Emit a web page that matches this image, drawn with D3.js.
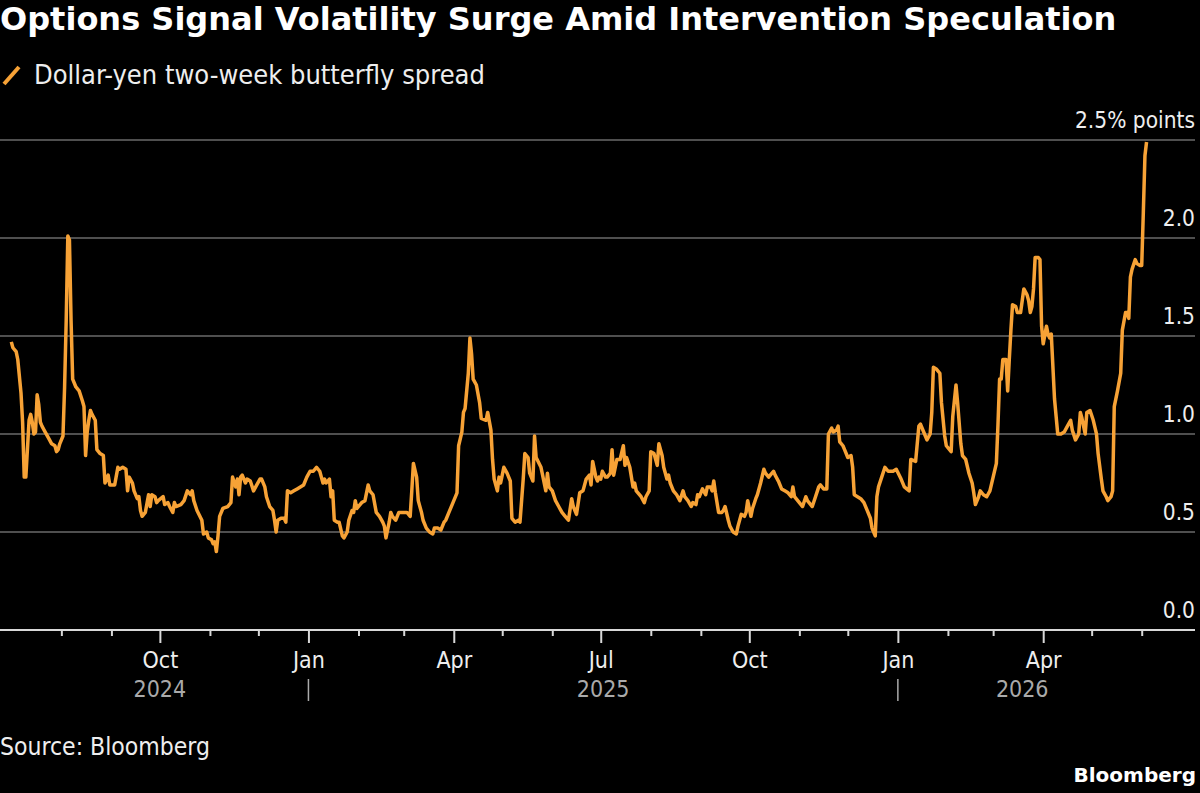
<!DOCTYPE html>
<html>
<head>
<meta charset="utf-8">
<script src="https://cdn.jsdelivr.net/npm/d3@7"></script>
<style>
  html, body { margin: 0; padding: 0; background: #000; }
  svg { display: block; }
  text { font-family: "DejaVu Sans Condensed", "DejaVu Sans", sans-serif; font-stretch: condensed; }
</style>
</head>
<body>
<svg id="graphic-svg" width="1200" height="793"></svg>
<script>
var svg = d3.select("#graphic-svg");
var W = 1200, H = 793;
var margin = { left: 0, right: 5, top: 140, bottom: 163 };

// Data: dollar-yen two-week butterfly spread (% points)
var dates = [
"2024-07-01","2024-07-02","2024-07-04","2024-07-05","2024-07-07","2024-07-08","2024-07-09","2024-07-10","2024-07-12","2024-07-13",
"2024-07-14","2024-07-15","2024-07-16","2024-07-17","2024-07-18","2024-07-19","2024-07-20","2024-07-22","2024-07-24","2024-07-26",
"2024-07-28","2024-07-29","2024-07-30","2024-07-31","2024-08-02","2024-08-03","2024-08-04","2024-08-05","2024-08-06","2024-08-07",
"2024-08-08","2024-08-10","2024-08-12","2024-08-14","2024-08-15","2024-08-16","2024-08-17","2024-08-18","2024-08-19","2024-08-20",
"2024-08-22","2024-08-23","2024-08-25","2024-08-27","2024-08-28","2024-08-30","2024-08-31","2024-09-03","2024-09-05","2024-09-06",
"2024-09-08","2024-09-10","2024-09-11","2024-09-12","2024-09-14","2024-09-15","2024-09-17","2024-09-18","2024-09-19","2024-09-20",
"2024-09-22","2024-09-24","2024-09-25","2024-09-26","2024-09-28","2024-09-29","2024-09-30","2024-10-03","2024-10-04","2024-10-06",
"2024-10-07","2024-10-09","2024-10-10","2024-10-11","2024-10-14","2024-10-16","2024-10-18","2024-10-20","2024-10-21","2024-10-22",
"2024-10-24","2024-10-27","2024-10-28","2024-10-30","2024-10-31","2024-11-02","2024-11-03","2024-11-04","2024-11-05","2024-11-06",
"2024-11-07","2024-11-09","2024-11-12","2024-11-14","2024-11-15","2024-11-17","2024-11-18","2024-11-19","2024-11-20","2024-11-21",
"2024-11-23","2024-11-24","2024-11-26","2024-11-28","2024-11-30","2024-12-02","2024-12-03","2024-12-05","2024-12-06","2024-12-08",
"2024-12-10","2024-12-11","2024-12-12","2024-12-13","2024-12-15","2024-12-17","2024-12-18","2024-12-19","2024-12-21","2024-12-23",
"2024-12-25","2024-12-27","2024-12-29","2024-12-31","2025-01-02","2025-01-04","2025-01-06","2025-01-08","2025-01-09","2025-01-10",
"2025-01-11","2025-01-12","2025-01-14","2025-01-15","2025-01-16","2025-01-17","2025-01-19","2025-01-20","2025-01-22","2025-01-23",
"2025-01-25","2025-01-26","2025-01-28","2025-01-29","2025-01-30","2025-01-31","2025-02-03","2025-02-05","2025-02-07","2025-02-08",
"2025-02-10","2025-02-12","2025-02-14","2025-02-16","2025-02-17","2025-02-18","2025-02-20","2025-02-21","2025-02-22","2025-02-24",
"2025-02-26","2025-02-28","2025-03-03","2025-03-05","2025-03-06","2025-03-07","2025-03-09","2025-03-10","2025-03-12","2025-03-13",
"2025-03-15","2025-03-17","2025-03-19","2025-03-20","2025-03-22","2025-03-24","2025-03-26","2025-03-27","2025-03-29","2025-03-31",
"2025-04-03","2025-04-04","2025-04-06","2025-04-07","2025-04-08","2025-04-10","2025-04-11","2025-04-12","2025-04-13","2025-04-15",
"2025-04-17","2025-04-18","2025-04-21","2025-04-22","2025-04-24","2025-04-25","2025-04-26","2025-04-28","2025-04-29","2025-04-30",
"2025-05-02","2025-05-04","2025-05-06","2025-05-07","2025-05-09","2025-05-11","2025-05-12","2025-05-14","2025-05-15","2025-05-17",
"2025-05-18","2025-05-20","2025-05-21","2025-05-22","2025-05-25","2025-05-26","2025-05-28","2025-05-29","2025-05-30","2025-06-01",
"2025-06-03","2025-06-05","2025-06-07","2025-06-09","2025-06-11","2025-06-13","2025-06-14","2025-06-16","2025-06-18","2025-06-20",
"2025-06-22","2025-06-24","2025-06-25","2025-06-26","2025-06-28","2025-06-29","2025-06-30","2025-07-01","2025-07-02","2025-07-04",
"2025-07-05","2025-07-07","2025-07-08","2025-07-09","2025-07-11","2025-07-13","2025-07-15","2025-07-16","2025-07-17","2025-07-19",
"2025-07-21","2025-07-22","2025-07-23","2025-07-26","2025-07-28","2025-07-29","2025-07-31","2025-08-01","2025-08-03","2025-08-05",
"2025-08-06","2025-08-08","2025-08-09","2025-08-11","2025-08-12","2025-08-13","2025-08-15","2025-08-17","2025-08-19","2025-08-21",
"2025-08-22","2025-08-24","2025-08-26","2025-08-27","2025-08-29","2025-08-30","2025-08-31","2025-09-02","2025-09-04","2025-09-05",
"2025-09-07","2025-09-08","2025-09-09","2025-09-10","2025-09-12","2025-09-14","2025-09-15","2025-09-16","2025-09-18","2025-09-19",
"2025-09-21","2025-09-23","2025-09-24","2025-09-26","2025-09-28","2025-09-29","2025-09-30","2025-10-02","2025-10-03","2025-10-05",
"2025-10-06","2025-10-08","2025-10-10","2025-10-11","2025-10-13","2025-10-14","2025-10-16","2025-10-17","2025-10-19","2025-10-21",
"2025-10-23","2025-10-25","2025-10-27","2025-10-28","2025-10-29","2025-10-31","2025-11-01","2025-11-03","2025-11-05","2025-11-06",
"2025-11-09","2025-11-11","2025-11-13","2025-11-14","2025-11-16","2025-11-18","2025-11-19","2025-11-21","2025-11-22","2025-11-24",
"2025-11-25","2025-11-26","2025-11-28","2025-11-29","2025-12-01","2025-12-03","2025-12-04","2025-12-05","2025-12-07","2025-12-09",
"2025-12-11","2025-12-13","2025-12-15","2025-12-16","2025-12-18","2025-12-19","2025-12-20","2025-12-22","2025-12-24","2025-12-26",
"2025-12-29","2025-12-31","2026-01-03","2026-01-05","2026-01-08","2026-01-09","2026-01-12","2026-01-14","2026-01-15","2026-01-17",
"2026-01-19","2026-01-21","2026-01-22","2026-01-23","2026-01-25","2026-01-27","2026-01-28","2026-01-30","2026-01-31","2026-02-02",
"2026-02-03","2026-02-04","2026-02-06","2026-02-07","2026-02-09","2026-02-10","2026-02-12","2026-02-14","2026-02-16","2026-02-17",
"2026-02-18","2026-02-20","2026-02-21","2026-02-23","2026-02-25","2026-02-27","2026-03-01","2026-03-03","2026-03-04","2026-03-05",
"2026-03-06","2026-03-07","2026-03-09","2026-03-10","2026-03-11","2026-03-12","2026-03-13","2026-03-15","2026-03-16","2026-03-18",
"2026-03-19","2026-03-20","2026-03-22","2026-03-23","2026-03-24","2026-03-25","2026-03-26","2026-03-27","2026-03-29","2026-03-30",
"2026-03-31","2026-04-01","2026-04-03","2026-04-04","2026-04-05","2026-04-06","2026-04-08","2026-04-09","2026-04-10","2026-04-12",
"2026-04-14","2026-04-16","2026-04-18","2026-04-19","2026-04-21","2026-04-23","2026-04-24","2026-04-25","2026-04-26","2026-04-27",
"2026-04-28","2026-04-30","2026-05-02","2026-05-04","2026-05-05","2026-05-07","2026-05-08","2026-05-10","2026-05-11","2026-05-13",
"2026-05-14","2026-05-15","2026-05-17","2026-05-19","2026-05-20","2026-05-22","2026-05-23","2026-05-24","2026-05-25","2026-05-26",
"2026-05-28","2026-05-29","2026-05-31","2026-06-01","2026-06-02","2026-06-03","2026-06-04"
];
var values = [
1.47,1.44,1.42,1.38,1.21,1.06,0.78,0.78,1.07,1.10,
1.06,1.00,1.01,1.20,1.15,1.06,1.04,1.01,0.98,0.95,
0.94,0.91,0.92,0.95,0.99,1.24,1.58,2.01,1.99,1.58,
1.28,1.24,1.22,1.17,1.14,0.89,1.01,1.07,1.12,1.10,
1.07,0.92,0.90,0.89,0.75,0.79,0.74,0.74,0.83,0.82,
0.83,0.82,0.71,0.78,0.75,0.71,0.67,0.68,0.61,0.58,
0.60,0.69,0.63,0.69,0.68,0.65,0.66,0.68,0.64,0.65,
0.63,0.60,0.65,0.63,0.64,0.66,0.71,0.69,0.71,0.66,
0.61,0.56,0.49,0.50,0.47,0.46,0.44,0.45,0.40,0.48,
0.58,0.62,0.63,0.65,0.78,0.73,0.77,0.69,0.78,0.79,
0.75,0.77,0.76,0.71,0.74,0.77,0.77,0.73,0.68,0.63,
0.61,0.56,0.50,0.56,0.57,0.57,0.55,0.71,0.70,0.71,
0.72,0.73,0.74,0.78,0.81,0.81,0.83,0.81,0.78,0.75,
0.77,0.75,0.77,0.68,0.71,0.56,0.55,0.55,0.48,0.47,
0.50,0.56,0.61,0.60,0.66,0.62,0.65,0.66,0.74,0.71,
0.69,0.60,0.58,0.55,0.53,0.47,0.55,0.60,0.58,0.56,
0.60,0.60,0.60,0.58,0.71,0.85,0.78,0.66,0.60,0.56,
0.52,0.50,0.49,0.52,0.52,0.51,0.55,0.56,0.60,0.64,
0.70,0.94,1.01,1.11,1.13,1.31,1.49,1.41,1.28,1.25,
1.16,1.08,1.07,1.11,1.02,0.87,0.77,0.71,0.78,0.75,
0.83,0.80,0.76,0.57,0.55,0.56,0.55,0.77,0.90,0.88,
0.80,0.76,0.99,0.88,0.83,0.79,0.71,0.80,0.73,0.71,
0.66,0.63,0.60,0.58,0.56,0.67,0.63,0.59,0.70,0.71,
0.77,0.79,0.74,0.86,0.78,0.76,0.78,0.77,0.81,0.78,
0.78,0.80,0.92,0.79,0.87,0.87,0.94,0.84,0.88,0.83,
0.73,0.75,0.71,0.68,0.65,0.68,0.71,0.91,0.90,0.84,
0.95,0.89,0.83,0.77,0.79,0.75,0.71,0.69,0.66,0.71,
0.68,0.66,0.63,0.65,0.64,0.69,0.68,0.72,0.69,0.73,
0.73,0.71,0.76,0.70,0.60,0.60,0.61,0.63,0.56,0.53,
0.50,0.49,0.53,0.59,0.58,0.60,0.66,0.58,0.62,0.67,
0.69,0.75,0.82,0.80,0.78,0.79,0.81,0.79,0.76,0.72,
0.71,0.70,0.68,0.73,0.68,0.66,0.65,0.63,0.68,0.66,
0.63,0.68,0.73,0.74,0.72,0.72,1.00,1.03,1.01,1.02,
1.04,0.96,0.94,0.92,0.88,0.89,0.83,0.69,0.68,0.67,
0.65,0.61,0.57,0.52,0.48,0.68,0.73,0.78,0.83,0.81,
0.81,0.82,0.77,0.73,0.71,0.87,0.86,1.04,1.05,1.01,
0.97,1.00,1.11,1.34,1.33,1.31,1.16,0.99,0.94,0.92,
0.91,1.09,1.25,1.16,0.95,0.89,0.87,0.80,0.75,0.70,
0.64,0.68,0.71,0.69,0.68,0.71,0.78,0.85,1.05,1.28,
1.28,1.38,1.38,1.22,1.38,1.53,1.66,1.65,1.62,1.62,
1.68,1.74,1.71,1.68,1.62,1.65,1.74,1.90,1.90,1.89,
1.55,1.46,1.55,1.51,1.49,1.51,1.18,1.09,1.00,1.00,
1.01,1.04,1.07,1.02,0.97,1.00,1.11,1.08,1.04,1.00,
1.11,1.12,1.07,1.00,0.90,0.77,0.71,0.68,0.66,0.68,
0.71,1.14,1.22,1.31,1.53,1.62,1.62,1.59,1.80,1.84,
1.89,1.87,1.86,1.86,2.13,2.42,2.49
];

// Axis ticks and labels
var xDomain = ["2024-06-24", "2026-07-04"];
var majorMonths = [0, 3, 6, 9];           // Jan, Apr, Jul, Oct
var monthNames = ["Jan","Feb","Mar","Apr","May","Jun","Jul","Aug","Sep","Oct","Nov","Dec"];
var years = ["2024", "2025", "2026"];
var yTicks = [0, 0.5, 1.0, 1.5, 2.0, 2.5];
var yTickLabels = ["0.0", "0.5", "1.0", "1.5", "2.0", "2.5% points"];

// Text
var title = "Options Signal Volatility Surge Amid Intervention Speculation";
var legendLabel = "Dollar-yen two-week butterfly spread";
var source = "Source: Bloomberg";

// Colors
var orange = "#f7a236";
var gridGray = "#6a6a6a";
var axisColor = "#d8d8d8";
var labelColor = "#eeeeee";
var yearColor = "#aaaaaa";

var parseDate = d3.timeParse("%Y-%m-%d");
var data = dates.map(function(d, i) {
  return { date: parseDate(d), value: values[i] };
});
var first = data[0].date, last = data[data.length - 1].date;

// Scales
var xScale = d3.scaleTime()
               .domain(xDomain.map(parseDate))
               .range([margin.left, W - margin.right]);
var yScale = d3.scaleLinear()
               .domain([0, 2.5])
               .range([H - margin.bottom, margin.top]);

// Title + legend
svg.append("text")
   .text(title)
   .attr("x", 0)
   .attr("y", 30)
   .style("font-family", "'DejaVu Sans', sans-serif")
   .style("font-stretch", "normal")
   .style("font-weight", "bold")
   .style("font-size", "32px")
   .style("fill", "#ffffff");
svg.append("line")
   .attr("x1", 4).attr("y1", 84)
   .attr("x2", 19).attr("y2", 67)
   .style("stroke", orange)
   .style("stroke-width", 4);
svg.append("text")
   .text(legendLabel)
   .attr("x", 34)
   .attr("y", 84)
   .style("font-size", "27px")
   .style("fill", labelColor);

// Gridlines + y labels
var grid = svg.append("g").attr("class", "grid");
grid.selectAll("line")
    .data(yTicks.filter(function(d) { return d > 0; }))
    .enter()
    .append("line")
    .attr("x1", margin.left)
    .attr("x2", W - margin.right)
    .attr("y1", function(d) { return yScale(d); })
    .attr("y2", function(d) { return yScale(d); })
    .style("stroke", gridGray)
    .style("stroke-width", 1.5);
grid.selectAll("text")
    .data(yTicks)
    .enter()
    .append("text")
    .text(function(d, i) { return yTickLabels[i]; })
    .attr("x", W - margin.right)
    .attr("y", function(d) { return yScale(d) - 12; })
    .style("text-anchor", "end")
    .style("font-size", "22.5px")
    .style("fill", labelColor);

// X axis: monthly ticks inside the data range only
var monthTicks = d3.timeMonth.range(d3.timeMonth.offset(d3.timeMonth.floor(first), 1), last);
var xAxis = d3.axisBottom(xScale)
              .tickValues(monthTicks)
              .tickSize(6)
              .tickFormat(function(d) {
                return majorMonths.indexOf(d.getMonth()) >= 0 ? monthNames[d.getMonth()] : "";
              });
var xAxisG = svg.append("g")
                .attr("class", "x-axis")
                .attr("transform", "translate(0," + yScale(0) + ")")
                .call(xAxis);
xAxisG.select(".domain")
      .attr("d", "M" + margin.left + ",0H" + (W - margin.right))
      .style("stroke", axisColor)
      .style("stroke-width", 2);
xAxisG.selectAll(".tick line")
      .attr("y2", function(d) { return majorMonths.indexOf(d.getMonth()) >= 0 ? 13 : 6; })
      .style("stroke", axisColor)
      .style("stroke-width", 2);
xAxisG.selectAll(".tick text")
      .attr("y", 38)
      .attr("dy", 0)
      .style("font-size", "23px")
      .style("fill", labelColor);

// Year labels, centred on each year's span of data
var yearSpans = years.map(function(y) {
  var a = d3.max([first, parseDate(y + "-01-01")]);
  var b = d3.min([last, parseDate((+y + 1) + "-01-01")]);
  return { label: y, mid: (xScale(a) + xScale(b)) / 2 };
});
svg.selectAll(".yearLabel")
   .data(yearSpans)
   .enter()
   .append("text")
   .attr("class", "yearLabel")
   .text(function(d) { return d.label; })
   .attr("x", function(d) { return d.mid; })
   .attr("y", yScale(0) + 67)
   .style("text-anchor", "middle")
   .style("font-size", "23px")
   .style("fill", yearColor);
svg.selectAll(".yearSep")
   .data(years.slice(1))
   .enter()
   .append("line")
   .attr("class", "yearSep")
   .attr("x1", function(d) { return xScale(parseDate(d + "-01-01")); })
   .attr("x2", function(d) { return xScale(parseDate(d + "-01-01")); })
   .attr("y1", yScale(0) + 49)
   .attr("y2", yScale(0) + 71)
   .style("stroke", yearColor)
   .style("stroke-width", 1.5);

// Series line
var line = d3.line()
             .x(function(d) { return xScale(d.date); })
             .y(function(d) { return yScale(d.value); });
svg.append("path")
   .datum(data)
   .attr("d", line)
   .style("fill", "none")
   .style("stroke", orange)
   .style("stroke-width", 3.5)
   .style("stroke-linejoin", "round");

// Footer
svg.append("text")
   .text(source)
   .attr("x", 0)
   .attr("y", 755)
   .style("font-size", "24.5px")
   .style("fill", labelColor);
svg.append("text")
   .text("Bloomberg")
   .attr("x", W - 4)
   .attr("y", 782)
   .style("text-anchor", "end")
   .style("font-family", "'DejaVu Sans', sans-serif")
   .style("font-stretch", "normal")
   .style("font-weight", "bold")
   .style("font-size", "20px")
   .style("fill", "#ffffff");
</script>
</body>
</html>
